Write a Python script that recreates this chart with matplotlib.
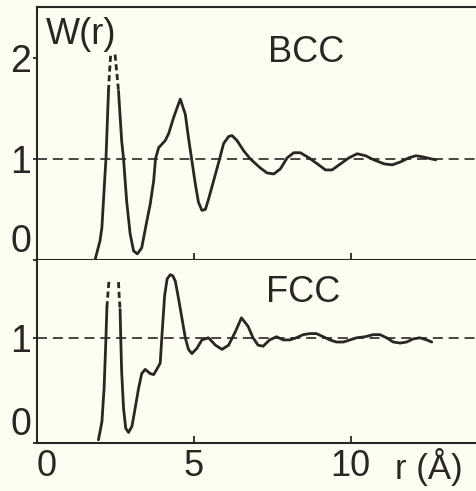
import numpy as np
import matplotlib
matplotlib.use('Agg')
import matplotlib.pyplot as plt
import matplotlib.transforms as mtransforms

nan = np.nan

# BCC, solid part of the curve (gap where the first peak goes off the top)
bcc_r = [1.85, 2.01, 2.07, 2.17, 2.20, 2.28, nan, 2.60, 2.70, 2.76, 2.86, 2.97,
         3.08, 3.20, 3.34, 3.50, 3.61, 3.72, 3.78, 3.88, 4.09, 4.20, 4.36, 4.51,
         4.57, 4.73, 4.83, 4.94, 5.05, 5.15, 5.26, 5.37, 5.47, 5.63, 5.79, 5.95,
         6.11, 6.22, 6.38, 6.59, 6.80, 7.12, 7.34, 7.55, 7.76, 7.98, 8.19, 8.40,
         8.67, 8.94, 9.20, 9.41, 9.68, 9.95, 10.21, 10.48, 10.74, 11.07, 11.33,
         11.60, 11.86, 12.08, 12.29, 12.56, 12.72]
bcc_w = [0.00, 0.19, 0.32, 0.85, 1.00, 1.67, nan, 1.67, 1.18, 1.00, 0.58, 0.26,
         0.09, 0.06, 0.12, 0.38, 0.55, 0.78, 1.00, 1.11, 1.18, 1.25, 1.41, 1.54,
         1.59, 1.44, 1.21, 0.98, 0.75, 0.57, 0.49, 0.50, 0.60, 0.78, 0.96, 1.15,
         1.22, 1.23, 1.18, 1.08, 1.00, 0.91, 0.86, 0.85, 0.90, 1.01, 1.06, 1.06,
         1.01, 0.95, 0.89, 0.89, 0.95, 1.01, 1.05, 1.03, 0.99, 0.95, 0.94,
         0.97, 1.01, 1.03, 1.02, 1.00, 0.99]
# dashed continuation of the first BCC peak
bcc_dash_r = [2.28, 2.31, 2.35, nan, 2.49, 2.57, 2.60]
bcc_dash_w = [1.67, 1.84, 2.03, nan, 2.03, 1.77, 1.67]

# FCC
fcc_r = [1.96, 2.07, 2.14, 2.18, 2.20, 2.23, nan, 2.65, 2.67, 2.70, 2.76, 2.83,
         2.92, 3.03, 3.13, 3.24, 3.34, 3.45, 3.61, 3.72, 3.82, 3.93, 3.98, 4.07,
         4.15, 4.25, 4.33, 4.41, 4.51, 4.62, 4.73, 4.83, 4.94, 5.10, 5.26, 5.47,
         5.69, 5.90, 6.11, 6.33, 6.52, 6.73, 6.89, 7.05, 7.21, 7.42, 7.64, 7.85,
         8.06, 8.27, 8.49, 8.70, 8.91, 9.13, 9.34, 9.55, 9.77, 9.98, 10.19, 10.46,
         10.72, 10.94, 11.15, 11.36, 11.58, 11.79, 12.00, 12.21, 12.43, 12.59]
fcc_w = [0.03, 0.20, 0.52, 0.84, 1.01, 1.29, nan, 1.27, 1.01, 0.68, 0.33, 0.14,
         0.10, 0.16, 0.33, 0.52, 0.66, 0.70, 0.66, 0.65, 0.70, 0.76, 1.00, 1.40,
         1.56, 1.60, 1.59, 1.54, 1.38, 1.19, 1.00, 0.89, 0.85, 0.90, 0.98, 1.00,
         0.93, 0.89, 0.93, 1.06, 1.19, 1.11, 1.00, 0.93, 0.92, 0.98, 1.01, 0.98,
         0.98, 1.00, 1.03, 1.04, 1.04, 1.01, 0.98, 0.96, 0.96, 0.98, 1.00, 1.01,
         1.03, 1.03, 1.00, 0.96, 0.95, 0.96, 0.99, 1.00, 0.98, 0.96]
fcc_dash_r = [2.23, 2.27, 2.30, nan, 2.60, 2.62, 2.65]
fcc_dash_w = [1.29, 1.45, 1.56, nan, 1.53, 1.40, 1.27]

ref_level = 1
x_ticks = [0, 5, 10]
top_yticks = [0, 1, 2]
bottom_yticks = [0, 1]

ink = '#2a2623'
paper = '#fdfdf1'

plt.rcParams['font.family'] = ['Liberation Sans', 'DejaVu Sans']

fig = plt.figure(figsize=(4.76, 4.91), dpi=100, facecolor=paper)
ax1 = fig.add_axes([0.0777, 0.4705, 0.9223, 0.5152])
ax2 = fig.add_axes([0.0777, 0.0978, 0.9223, 0.3727])

panels = [
    (ax1, bcc_r, bcc_w, bcc_dash_r, bcc_dash_w, top_yticks, 2.5, 'BCC', 8.6, 2.05),
    (ax2, fcc_r, fcc_w, fcc_dash_r, fcc_dash_w, bottom_yticks, 1.74, 'FCC', 8.5, 1.43),
]

for ax, r, w, dr, dw, yt, ytop, name, nx, ny in panels:
    ax.set_facecolor(paper)
    ax.axhline(ref_level, color=ink, lw=1.2, ls=(0, (6, 3.5)), zorder=1)
    ax.plot(r, w, color=ink, lw=2.0, solid_joinstyle='round',
            solid_capstyle='round', zorder=2)
    ax.plot(dr, dw, color=ink, lw=2.0, ls=(0, (2.2, 1.3)), zorder=2)
    ax.set_xlim(0, 14)
    ax.set_ylim(0, ytop)
    ax.set_xticks(x_ticks)
    ax.set_yticks(yt)
    ax.spines['right'].set_visible(False)
    for s in ['left', 'top', 'bottom']:
        ax.spines[s].set_linewidth(1.5)
        ax.spines[s].set_color(ink)
    ax.tick_params(axis='x', direction='in', length=5, width=1.3, color=ink,
                   labelsize=26, labelcolor=ink, pad=4)
    ax.tick_params(axis='y', direction='out', length=3, width=1.3, color=ink,
                   labelsize=27, labelcolor=ink, pad=1)
    for lab in ax.get_yticklabels():
        if lab.get_text() == '0':
            lab.set_verticalalignment('bottom')
    ax.text(nx, ny, name, fontsize=26, color=ink, ha='center', va='center')

ax2.spines['top'].set_visible(False)
ax1.tick_params(axis='x', labelbottom=False)
for lab in ax2.get_xticklabels():
    if lab.get_text() == '0':
        lab.set_horizontalalignment('left')

ax1.text(0.02, 0.96, 'W(r)', transform=ax1.transAxes, fontsize=26, color=ink,
         ha='left', va='top')
trans = mtransforms.blended_transform_factory(ax2.transData, ax2.transAxes)
ax2.text(12.5, -0.025, 'r (Å)', transform=trans, fontsize=25, color=ink,
         ha='center', va='top')

fig.savefig('out.png', dpi=100, facecolor=paper)
